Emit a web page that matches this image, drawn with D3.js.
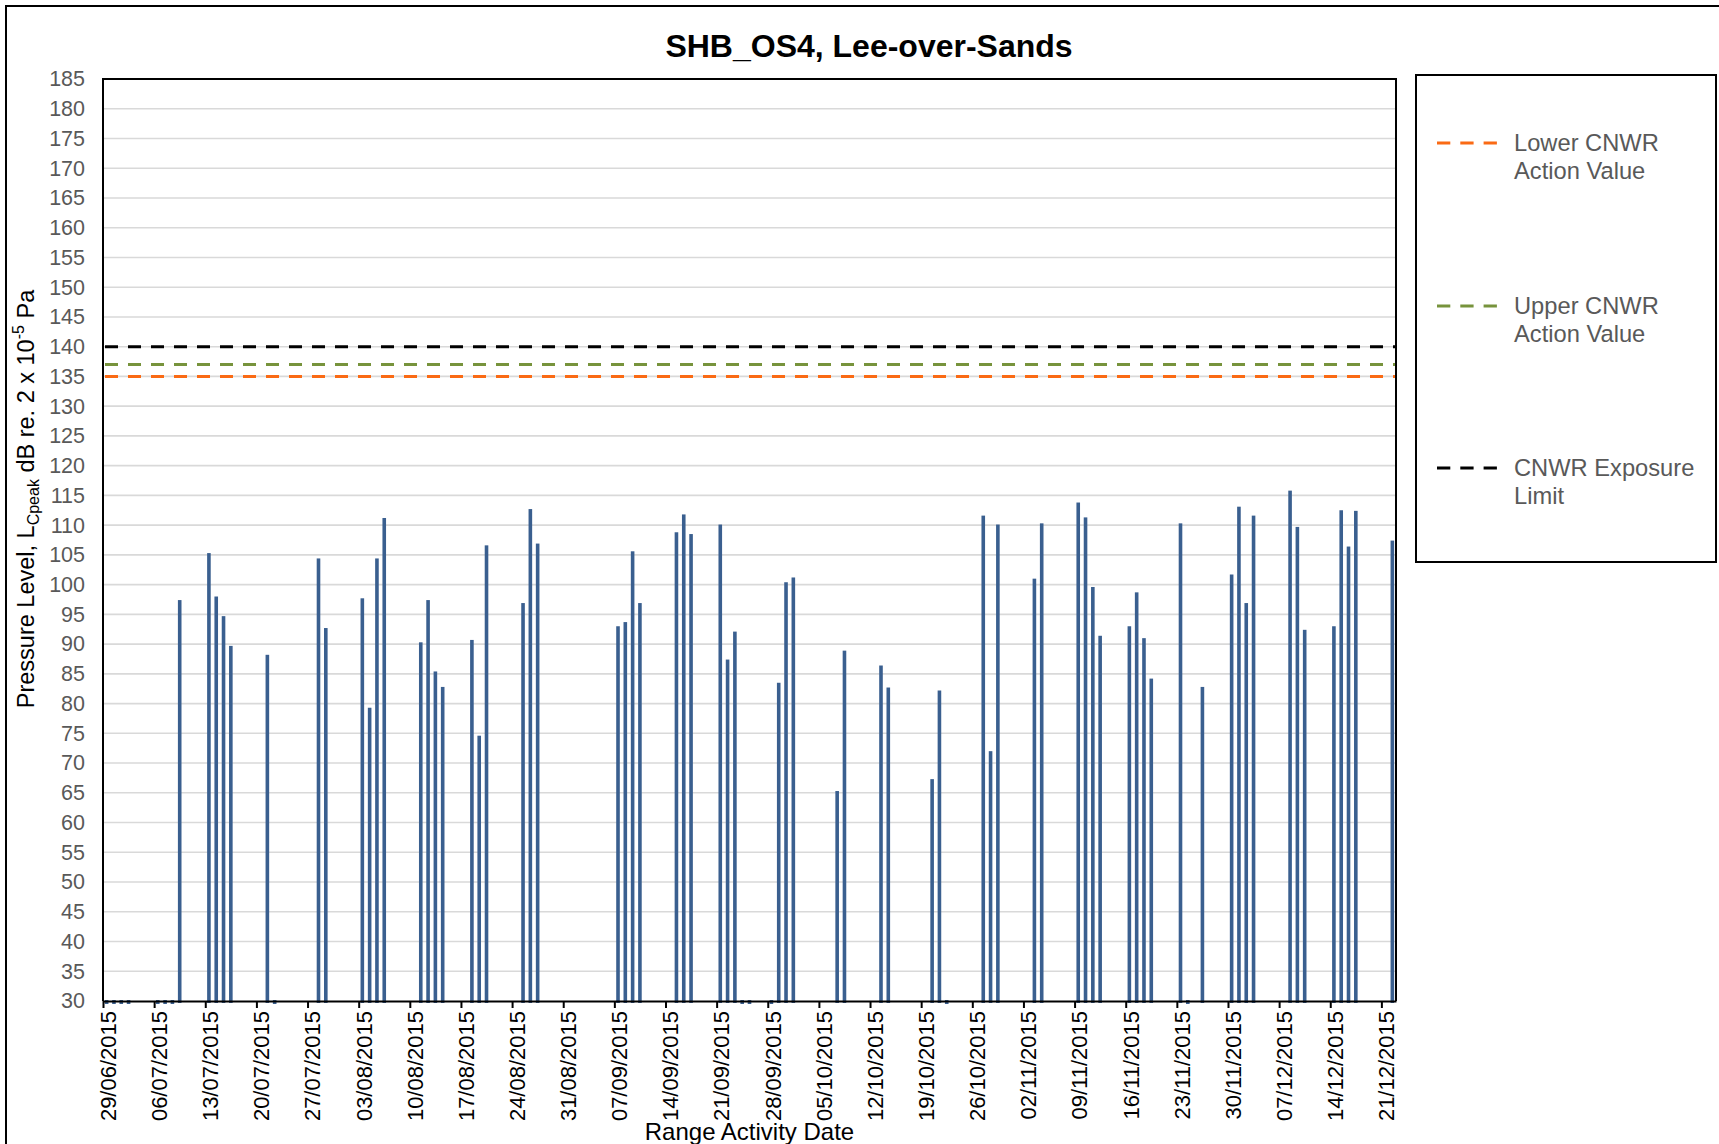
<!DOCTYPE html>
<html>
<head>
<meta charset="utf-8">
<script src="https://cdn.jsdelivr.net/npm/d3@7"></script>
<style>
  html, body { margin: 0; padding: 0; background: #fff; }
  svg { display: block; font-family: "Liberation Sans", Arial, sans-serif; }
</style>
</head>
<body>
<svg id="chart" width="1719" height="1144"></svg>
<script>
// ---------------- data ----------------
const chartTitle = "SHB_OS4, Lee-over-Sands";
const xTitle = "Range Activity Date";

const activityDates = [
  "2015-07-09","2015-07-13","2015-07-14","2015-07-15","2015-07-16","2015-07-21",
  "2015-07-28","2015-07-29","2015-08-03","2015-08-04","2015-08-05","2015-08-06",
  "2015-08-11","2015-08-12","2015-08-13","2015-08-14","2015-08-18","2015-08-19",
  "2015-08-20","2015-08-25","2015-08-26","2015-08-27","2015-09-07","2015-09-08",
  "2015-09-09","2015-09-10","2015-09-15","2015-09-16","2015-09-17","2015-09-21",
  "2015-09-22","2015-09-23","2015-09-29","2015-09-30","2015-10-01","2015-10-07",
  "2015-10-08","2015-10-13","2015-10-14","2015-10-20","2015-10-21","2015-10-27",
  "2015-10-28","2015-10-29","2015-11-03","2015-11-04","2015-11-09","2015-11-10",
  "2015-11-11","2015-11-12","2015-11-16","2015-11-17","2015-11-18","2015-11-19",
  "2015-11-23","2015-11-26","2015-11-30","2015-12-01","2015-12-02","2015-12-03",
  "2015-12-08","2015-12-09","2015-12-10","2015-12-14","2015-12-15","2015-12-16",
  "2015-12-17","2015-12-22"
];
const peakLevels = [
  97.4,105.3,98.0,94.7,89.7,88.2,
  104.4,92.7,97.7,79.3,104.4,111.2,
  90.3,97.4,85.4,82.8,90.7,74.6,
  106.6,96.9,112.7,106.9,93.0,93.7,
  105.6,96.9,108.8,111.8,108.5,110.1,
  87.4,92.1,83.5,100.4,101.2,65.3,
  88.9,86.4,82.7,67.3,82.2,111.6,
  72.0,110.1,101.0,110.3,113.8,111.3,
  99.6,91.4,93.0,98.7,91.0,84.2,
  110.3,82.8,101.7,113.1,96.9,111.6,
  115.8,109.7,92.4,93.0,112.5,106.4,
  112.4,107.4
];
// days with activity recorded below the axis minimum (drawn as slivers at the baseline)
const lowDates = ["2015-06-29","2015-06-30","2015-07-01","2015-07-02","2015-07-06","2015-07-07",
  "2015-07-08","2015-07-22","2015-09-24","2015-09-25","2015-09-28","2015-10-22","2015-11-24"];

const thresholdNames  = [["Lower CNWR","Action Value"],["Upper CNWR","Action Value"],["CNWR Exposure","Limit"]];
const thresholdValues = [135, 137, 140];
const thresholdColors = ["#FA6A14", "#77933C", "#000000"];

const yTickValues = d3.range(30, 186, 5);
const xStart = "2015-06-29", xEnd = "2015-12-23";

// ---------------- layout ----------------
const svg = d3.select("#chart");
const parse = d3.timeParse("%Y-%m-%d");
const fmt = d3.timeFormat("%d/%m/%Y");
const L = 103, R = 1396, T = 79, B = 1001;

const x = d3.scaleTime().domain([parse(xStart), parse(xEnd)]).range([L, R]);
const y = d3.scaleLinear().domain([30, 185]).range([B, T]);
const dayW = x(parse("2015-06-30")) - x(parse("2015-06-29"));
const barW = 3.6;

// outer frame
svg.append("rect").attr("x", 6).attr("y", 6).attr("width", 1760).attr("height", 1200)
  .attr("fill", "none").attr("stroke", "#000").attr("stroke-width", 2);

// title
svg.append("text").attr("x", 869).attr("y", 57).attr("text-anchor", "middle")
  .attr("font-size", 32).attr("font-weight", "bold").attr("fill", "#000").text(chartTitle);

// gridlines
svg.append("g").selectAll("line").data(yTickValues.filter(v => v > 30 && v < 185)).join("line")
  .attr("x1", L).attr("x2", R).attr("y1", d => y(d)).attr("y2", d => y(d))
  .attr("stroke", "#D9D9D9").attr("stroke-width", 1.6);

// y axis labels
const yAxis = d3.axisLeft(y).tickValues(yTickValues).tickSize(0).tickPadding(18);
const gy = svg.append("g").attr("transform", `translate(${L},0)`).call(yAxis);
gy.select(".domain").remove();
gy.selectAll("text").attr("font-size", 21.5).attr("fill", "#595959")
  .attr("font-family", "'Liberation Sans', Arial, sans-serif");

// threshold lines
svg.append("g").selectAll("line").data(thresholdValues).join("line")
  .attr("x1", L + 2).attr("x2", R).attr("y1", d => y(d)).attr("y2", d => y(d))
  .attr("stroke", (d, i) => thresholdColors[i]).attr("stroke-width", 3)
  .attr("stroke-dasharray", "13,10");

// bars
const bars = activityDates.map((d, i) => ({ date: parse(d), v: peakLevels[i] }));
svg.append("g").selectAll("rect").data(bars).join("rect")
  .attr("x", d => x(d.date) + dayW / 2 - barW / 2)
  .attr("y", d => y(d.v))
  .attr("width", barW)
  .attr("height", d => y(30) - y(d.v) + 2)
  .attr("fill", "#3A5F8F");

svg.append("g").selectAll("rect").data(lowDates.map(parse)).join("rect")
  .attr("x", d => x(d) + dayW / 2 - barW / 2)
  .attr("y", B - 1).attr("width", barW).attr("height", 4)
  .attr("fill", "#3A5F8F");

// plot border (top, right, left)
svg.append("path").attr("d", `M${L},${B}V${T}H${R}V${B}`)
  .attr("fill", "none").attr("stroke", "#000").attr("stroke-width", 2);

// x axis
const xTicks = d3.timeMonday.range(parse(xStart), d3.timeDay.offset(parse("2015-12-21"), 1));
const xAxis = d3.axisBottom(x).tickValues(xTicks).tickFormat(fmt).tickSize(7).tickSizeOuter(0);
const gx = svg.append("g").attr("transform", `translate(0,${B})`).call(xAxis);
gx.select(".domain").attr("stroke", "#000").attr("stroke-width", 2.2);
gx.selectAll(".tick line").attr("stroke", "#000").attr("stroke-width", 2);
gx.selectAll("text")
  .attr("font-size", 22).attr("fill", "#000")
  .attr("font-family", "'Liberation Sans', Arial, sans-serif")
  .attr("text-anchor", "end")
  .attr("transform", "rotate(-90)")
  .attr("x", -10).attr("y", 0).attr("dy", "0.56em");

svg.append("text").attr("x", (L + R) / 2).attr("y", 1140).attr("text-anchor", "middle")
  .attr("font-size", 24).attr("fill", "#000").text(xTitle);

// y axis title
const yt = svg.append("text").attr("transform", "translate(34,499) rotate(-90)")
  .attr("text-anchor", "middle").attr("font-size", 23.5).attr("fill", "#000");
yt.append("tspan").text("Pressure Level, L");
yt.append("tspan").attr("font-size", 16).attr("dy", 5).text("Cpeak");
yt.append("tspan").attr("dy", -5).text(" dB re. 2 x 10");
yt.append("tspan").attr("font-size", 16).attr("dy", -10).text("-5");
yt.append("tspan").attr("dy", 10).text(" Pa");

// legend
const lg = svg.append("g");
lg.append("rect").attr("x", 1416).attr("y", 75).attr("width", 300).attr("height", 487)
  .attr("fill", "#fff").attr("stroke", "#000").attr("stroke-width", 2);
const legendY = [143, 306, 468];
thresholdNames.forEach((lines, i) => {
  lg.append("line").attr("x1", 1437).attr("x2", 1497).attr("y1", legendY[i]).attr("y2", legendY[i])
    .attr("stroke", thresholdColors[i]).attr("stroke-width", 3.2).attr("stroke-dasharray", "13.3,10");
  const t = lg.append("text").attr("x", 1514).attr("y", legendY[i] + 8)
    .attr("font-size", 23.7).attr("fill", "#595959");
  lines.forEach((ln, j) => t.append("tspan").attr("x", 1514).attr("dy", j ? 27.5 : 0).text(ln));
});
</script>
</body>
</html>
